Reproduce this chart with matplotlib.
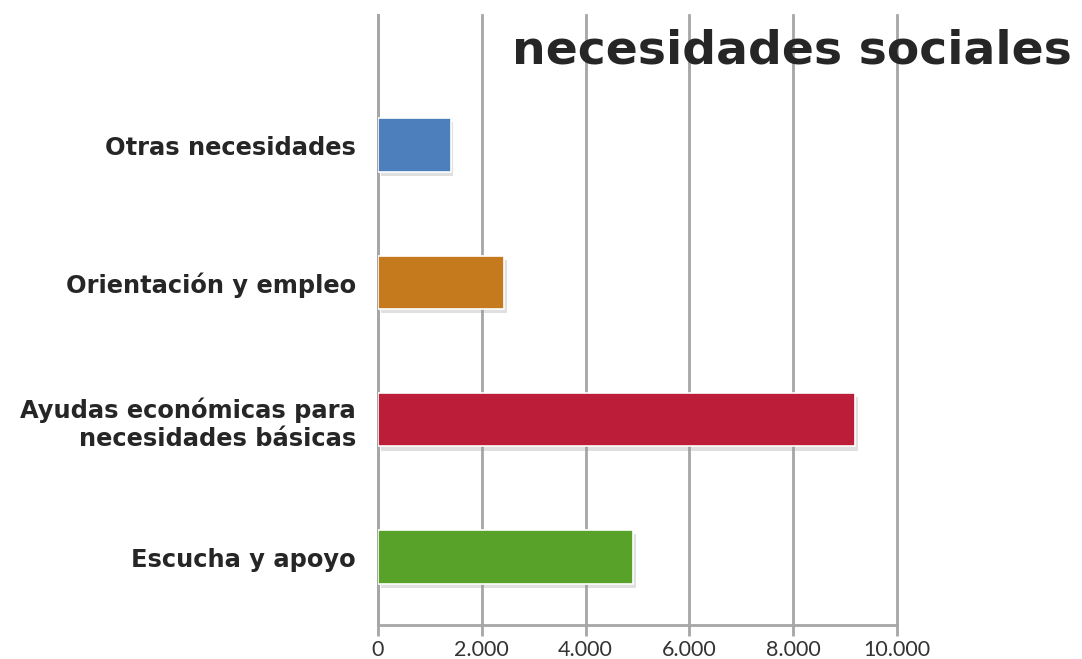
import matplotlib
matplotlib.use('Agg')
import matplotlib.pyplot as plt
import matplotlib.patheffects as pe
from matplotlib.ticker import FuncFormatter

# categories from bottom to top
categorias = ['Escucha y apoyo', 'Ayudas económicas para\nnecesidades básicas',
              'Orientación y empleo', 'Otras necesidades']
valores = [4910, 9190, 2430, 1400]
colores = ['#58a22a', '#bc1e3a', '#c67a1e', '#4c7fbc']
ticks = [0, 2000, 4000, 6000, 8000, 10000]

fig = plt.figure(figsize=(10.82, 6.59), dpi=100)
ax = fig.add_axes([0.3494, 0.0516, 0.4797, 0.9256])

bars = ax.barh(range(len(categorias)), valores, height=0.39, color=colores,
               edgecolor='white', linewidth=1.2, zorder=3)
for b in bars:
    b.set_path_effects([pe.SimplePatchShadow(offset=(2, -3), shadow_rgbFace='#999999', alpha=0.3),
                        pe.Normal()])

ax.set_xlim(0, 10000)
ax.set_ylim(-0.495, 3.947)
ax.set_xticks(ticks)
ax.xaxis.set_major_formatter(FuncFormatter(lambda v, p: f'{int(v):,}'.replace(',', '.')))
ax.grid(axis='x', color='#a6a6a6', linewidth=2, zorder=0)
for gl in ax.get_xgridlines():
    gl.set_clip_on(False)
ax.tick_params(axis='x', direction='out', length=8, width=2, color='#a6a6a6',
               labelsize=15.5, labelcolor='#333333', labelfontfamily='Lato', pad=3)
ax.tick_params(axis='y', length=0, pad=16)
ax.set_yticks(range(len(categorias)))
ax.set_yticklabels(categorias, fontsize=17.4, fontweight='bold', color='#262626',
                   ha='right', multialignment='right')

for s in ['top', 'right']:
    ax.spines[s].set_visible(False)
ax.spines['left'].set_color('#a6a6a6')
ax.spines['left'].set_linewidth(2)
ax.spines['bottom'].set_color('#a6a6a6')
ax.spines['bottom'].set_linewidth(2)

fig.text(0.991, 0.922, 'necesidades sociales', fontsize=34, fontweight='bold',
         color='#262626', ha='right', va='center')

plt.savefig('out.png', dpi=100)
